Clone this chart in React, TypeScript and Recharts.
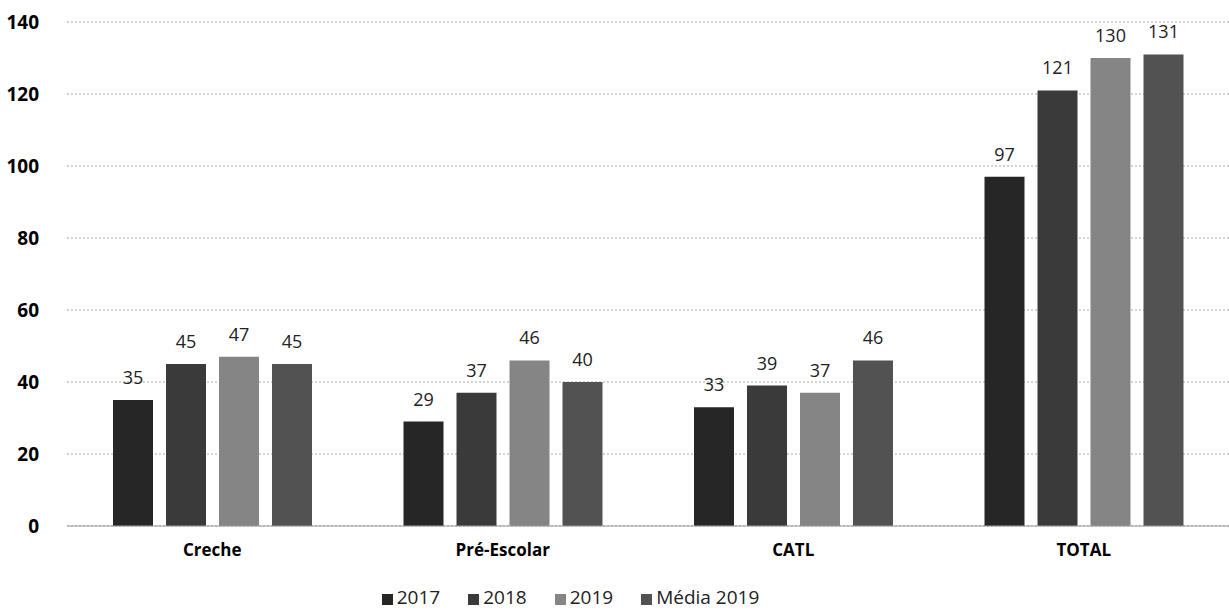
import React from 'react';
import {
  BarChart,
  Bar,
  XAxis,
  YAxis,
  CartesianGrid,
  Legend,
  LabelList,
} from 'recharts';

const categories = ['Creche', 'Pré-Escolar', 'CATL', 'TOTAL'];
const values2017 = [35, 29, 33, 97];
const values2018 = [45, 37, 39, 121];
const values2019 = [47, 46, 37, 130];
const media2019 = [45, 40, 46, 131];
const yTicks = [0, 20, 40, 60, 80, 100, 120, 140];

const data = categories.map((name, i) => ({
  name,
  y2017: values2017[i],
  y2018: values2018[i],
  y2019: values2019[i],
  media: media2019[i],
}));

const font = '"Open Sans", "Noto Sans", sans-serif';

const series = [
  { key: 'y2017', label: '2017', color: '#262626' },
  { key: 'y2018', label: '2018', color: '#3a3a3a' },
  { key: 'y2019', label: '2019', color: '#858585' },
  { key: 'media', label: 'Média 2019', color: '#525252' },
];

const App: React.FC = () => {
  return (
    <div style={{ width: 1229, height: 614, fontFamily: font, background: '#fff' }}>
      <style>{`body{margin:0}`}</style>
      <BarChart
        width={1229}
        height={614}
        data={data}
        margin={{ top: 22, right: 0, left: 0, bottom: 4 }}
        barSize={40}
        barGap={13}
      >
        <CartesianGrid vertical={false} stroke="#a5a5a5" strokeDasharray="2 2" />
        <XAxis
          dataKey="name"
          height={58}
          axisLine={{ stroke: '#9a9a9a' }}
          tickLine={false}
          tick={{ fill: '#000', fontSize: 17, fontWeight: 700, fontFamily: font }}
          tickMargin={12}
        />
        <YAxis
          width={67}
          domain={[0, 140]}
          ticks={yTicks}
          axisLine={false}
          tickLine={false}
          tick={{ fill: '#000', fontSize: 19, fontWeight: 700, fontFamily: font }}
          tickMargin={22}
        />
        <Legend
          verticalAlign="bottom"
          iconType="square"
          iconSize={11}
          wrapperStyle={{ left: -30 }}
          formatter={(v: string) => (
            <span style={{ color: '#222', fontSize: 19, paddingRight: 18 }}>{v}</span>
          )}
        />
        {series.map((s) => (
          <Bar key={s.key} dataKey={s.key} name={s.label} fill={s.color} isAnimationActive={false}>
            <LabelList
              dataKey={s.key}
              position="top"
              offset={16}
              fill="#222"
              fontSize={18}
              fontFamily={font}
            />
          </Bar>
        ))}
      </BarChart>
    </div>
  );
};

export default App;
